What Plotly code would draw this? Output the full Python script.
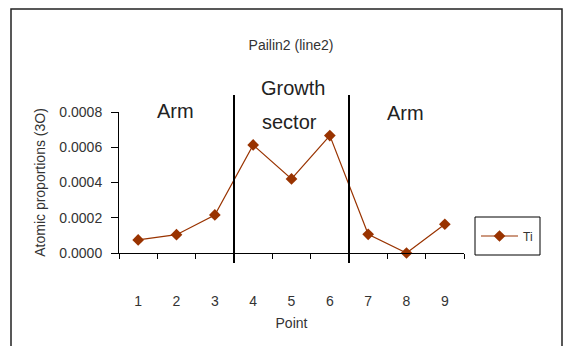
import plotly.graph_objects as go

# data
points = [1, 2, 3, 4, 5, 6, 7, 8, 9]
ti = [0.000074, 0.000104, 0.000216, 0.000613, 0.00042, 0.000666, 0.000106, 0.0, 0.000163]
y_ticks = [0.0, 0.0002, 0.0004, 0.0006, 0.0008]
boundaries = [3.5, 6.5]

# page body has an 8px margin all round; keep the figure inside the window
OFF = 8
W, H = 572 - 2 * OFF, 354 - 2 * OFF
L, T = 119 - OFF, 112 - OFF
PW, PH = 345, 141
R, B = W - L - PW, H - T - PH
FONT = "Liberation Sans, Arial, sans-serif"
BROWN = "#993300"


def px(x):
    # page pixel -> paper x
    return (x - OFF - L) / PW


def py(y):
    # page pixel -> paper y
    return (T + PH - (y - OFF)) / PH


fig = go.Figure(
    go.Scatter(
        x=points,
        y=ti,
        mode="lines+markers",
        name="Ti",
        line=dict(color=BROWN, width=1.2),
        marker=dict(symbol="diamond", size=9, color=BROWN),
        cliponaxis=False,
    )
)

shapes = []
for b in boundaries:
    xp = (b - 0.5) / len(points)
    shapes.append(dict(type="line", xref="paper", yref="paper", x0=xp, x1=xp,
                       y0=py(263), y1=py(95), line=dict(color="black", width=2)))
# outer chart frame
shapes.append(dict(type="rect", xref="paper", yref="paper", x0=px(11), x1=px(562),
                   y0=py(362), y1=py(9), line=dict(color="#222", width=1.5)))
# legend box
shapes.append(dict(type="rect", xref="paper", yref="paper", x0=px(475), x1=px(540),
                   y0=py(255), y1=py(217), line=dict(color="black", width=1),
                   fillcolor="white", layer="below"))

labels = [("Arm", 175, 111), ("Growth", 293, 88), ("sector", 289, 122), ("Arm", 405, 113)]
annotations = [
    dict(text=t, x=px(x), y=py(y), xref="paper", yref="paper", showarrow=False,
         xanchor="center", yanchor="middle", font=dict(size=20, color="#222", family=FONT))
    for t, x, y in labels
]

fig.update_layout(
    width=W, height=H,
    margin=dict(l=L, r=R, t=T, b=B),
    paper_bgcolor="white", plot_bgcolor="white",
    font=dict(family=FONT, size=14, color="#333"),
    title=dict(text="Pailin2 (line2)", x=(291 - OFF) / W, y=1 - (45 - OFF) / H,
               xanchor="center", yanchor="middle", font=dict(size=14, color="#333")),
    shapes=shapes,
    annotations=annotations,
    showlegend=True,
    legend=dict(x=px(476), y=py(236), xanchor="left", yanchor="middle",
                borderwidth=0, bgcolor="rgba(0,0,0,0)", itemwidth=37,
                font=dict(size=12, color="#333")),
    xaxis=dict(
        range=[0.5, 9.5], tickvals=points, ticks="", showgrid=False, zeroline=False,
        showline=True, linecolor="black", linewidth=1,
        ticklabelstandoff=35,
        minor=dict(tickvals=[i + 0.5 for i in range(10)], ticks="outside",
                   ticklen=5, tickcolor="black", tickwidth=1),
        title=dict(text="Point", standoff=10, font=dict(size=14)),
    ),
    yaxis=dict(
        range=[0, 0.0008], tickvals=y_ticks, tickformat=".4f", ticks="outside",
        ticklen=7, tickcolor="black", showgrid=False, zeroline=False,
        showline=True, linecolor="black", linewidth=1, ticklabelstandoff=6,
        title=dict(text="Atomic proportions (3O)", standoff=10, font=dict(size=14)),
    ),
)

fig.write_html("out.html")
